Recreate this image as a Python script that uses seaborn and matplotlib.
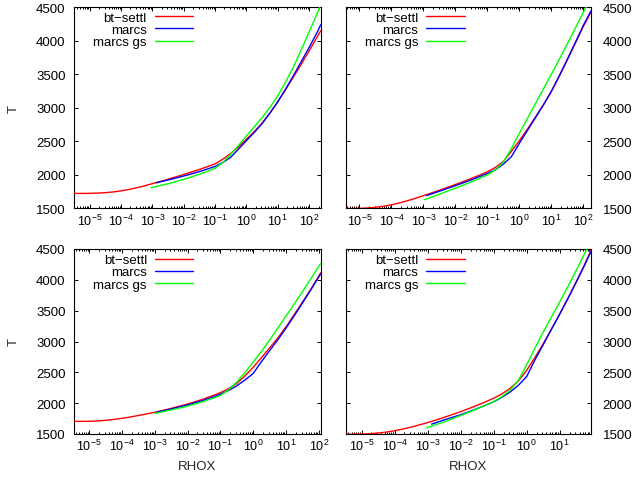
import numpy as np
import pandas as pd
import matplotlib
matplotlib.use("Agg")
import matplotlib.pyplot as plt
import seaborn as sns
from matplotlib.lines import Line2D
from matplotlib.ticker import LogLocator, NullFormatter, MultipleLocator

# ---------------------------------------------------------------- data
models = ["bt-settl", "marcs", "marcs gs"]
legend_labels = ["bt\u2212settl", "marcs", "marcs gs"]
palette = {"bt-settl": "#ff0000", "marcs": "#0000ff", "marcs gs": "#00ff00"}

# top left model: log10(RHOX) and temperature for each atmosphere grid
tl_settl_lgx = [-5.5, -5.25, -5.0, -4.75, -4.5, -4.25, -4.0, -3.75, -3.5, -3.25, -3.0, -2.75, -2.5, -2.25,
                -2.0, -1.75, -1.5, -1.25, -1.0, -0.75, -0.5, -0.25, 0.0, 0.25, 0.5, 0.75, 1.0, 1.25,
                1.5, 1.75, 2.0, 2.25, 2.37]
tl_settl_T = [1722, 1722, 1723, 1727, 1733, 1744, 1760, 1781, 1806, 1835, 1868, 1900, 1934, 1969,
              2005, 2042, 2080, 2120, 2163, 2233, 2318, 2418, 2530, 2645, 2770, 2920, 3090, 3270,
              3460, 3650, 3850, 4050, 4150]
tl_marcs_lgx = [-2.88, -2.75, -2.5, -2.25, -2.0, -1.75, -1.5, -1.25, -1.0, -0.75, -0.5, -0.25, 0.0,
                0.25, 0.5, 0.75, 1.0, 1.25, 1.5, 1.75, 2.0, 2.25, 2.37]
tl_marcs_T = [1880, 1895, 1922, 1952, 1982, 2014, 2048, 2085, 2125, 2185, 2262, 2385, 2510,
              2632, 2765, 2920, 3090, 3280, 3480, 3690, 3900, 4120, 4240]
tl_gs_lgx = [-3.04, -2.75, -2.5, -2.25, -2.0, -1.75, -1.5, -1.25, -1.0, -0.75, -0.5, -0.25, 0.0,
             0.25, 0.5, 0.75, 1.0, 1.25, 1.5, 1.75, 2.0, 2.25, 2.37]
tl_gs_T = [1808, 1840, 1866, 1898, 1932, 1969, 2008, 2050, 2097, 2185, 2305, 2440, 2580,
           2715, 2855, 3005, 3180, 3385, 3610, 3865, 4130, 4400, 4540]

# top right model
tr_settl_lgx = [-5.42, -5.25, -5.0, -4.75, -4.5, -4.25, -4.0, -3.75, -3.5, -3.25, -3.0, -2.75, -2.5,
                -2.25, -2.0, -1.75, -1.5, -1.25, -1.0, -0.75, -0.5, -0.25, 0.0, 0.25, 0.5, 0.75,
                1.0, 1.25, 1.5, 1.75, 2.0, 2.23]
tr_settl_T = [1497, 1497, 1499, 1505, 1515, 1531, 1552, 1580, 1613, 1649, 1688, 1728, 1770,
              1812, 1855, 1900, 1946, 1994, 2045, 2110, 2200, 2350, 2510, 2680, 2860, 3045,
              3245, 3475, 3715, 3965, 4215, 4420]
tr_marcs_lgx = [-2.9, -2.75, -2.5, -2.25, -2.0, -1.75, -1.5, -1.25, -1.0, -0.75, -0.5, -0.25, 0.0,
                0.25, 0.5, 0.75, 1.0, 1.25, 1.5, 1.75, 2.0, 2.23]
tr_marcs_T = [1690, 1715, 1755, 1796, 1838, 1881, 1925, 1972, 2020, 2075, 2160, 2270, 2470,
              2660, 2850, 3040, 3245, 3480, 3725, 3975, 4230, 4440]
tr_gs_lgx = [-2.97, -2.75, -2.5, -2.25, -2.0, -1.75, -1.5, -1.25, -1.0, -0.75, -0.5, -0.25, 0.0,
             0.25, 0.5, 0.75, 1.0, 1.25, 1.5, 1.75, 2.0, 2.23]
tr_gs_T = [1628, 1665, 1710, 1755, 1800, 1847, 1895, 1945, 1998, 2075, 2190, 2390, 2620,
           2840, 3060, 3280, 3500, 3725, 3955, 4190, 4425, 4640]

# bottom left model
bl_settl_lgx = [-5.46, -5.25, -5.0, -4.75, -4.5, -4.25, -4.0, -3.75, -3.5, -3.25, -3.0, -2.75, -2.5,
                -2.25, -2.0, -1.75, -1.5, -1.25, -1.0, -0.75, -0.5, -0.25, 0.0, 0.25, 0.5, 0.75,
                1.0, 1.25, 1.5, 1.75, 2.0, 2.06]
bl_settl_T = [1705, 1705, 1706, 1712, 1722, 1736, 1754, 1775, 1800, 1825, 1851, 1882, 1915,
              1950, 1986, 2026, 2070, 2118, 2170, 2235, 2320, 2440, 2580, 2735, 2895, 3055,
              3235, 3435, 3635, 3840, 4060, 4115]
bl_marcs_lgx = [-2.94, -2.75, -2.5, -2.25, -2.0, -1.75, -1.5, -1.25, -1.0, -0.75, -0.5, -0.25, 0.0,
                0.25, 0.5, 0.75, 1.0, 1.25, 1.5, 1.75, 2.0, 2.06]
bl_marcs_T = [1855, 1876, 1905, 1937, 1972, 2010, 2050, 2095, 2145, 2205, 2280, 2375, 2480,
              2670, 2850, 3025, 3215, 3415, 3620, 3830, 4045, 4100]
bl_gs_lgx = [-2.99, -2.75, -2.5, -2.25, -2.0, -1.75, -1.5, -1.25, -1.0, -0.75, -0.5, -0.25, 0.0,
             0.25, 0.5, 0.75, 1.0, 1.25, 1.5, 1.75, 2.0, 2.06]
bl_gs_T = [1835, 1860, 1890, 1920, 1952, 1990, 2030, 2075, 2125, 2215, 2340, 2495, 2665,
           2835, 3020, 3215, 3410, 3605, 3805, 4010, 4215, 4265]

# bottom right model
br_settl_lgx = [-5.47, -5.25, -5.0, -4.75, -4.5, -4.25, -4.0, -3.75, -3.5, -3.25, -3.0, -2.75, -2.5,
                -2.25, -2.0, -1.75, -1.5, -1.25, -1.0, -0.75, -0.5, -0.25, 0.0, 0.25, 0.5, 0.75,
                1.0, 1.25, 1.5, 1.75, 1.95]
br_settl_T = [1497, 1497, 1499, 1505, 1515, 1531, 1553, 1580, 1612, 1647, 1685, 1726, 1770,
              1815, 1862, 1912, 1965, 2020, 2080, 2150, 2240, 2360, 2530, 2740, 2960, 3200,
              3445, 3700, 3965, 4240, 4480]
br_marcs_lgx = [-2.88, -2.75, -2.5, -2.25, -2.0, -1.75, -1.5, -1.25, -1.0, -0.75, -0.5, -0.25, 0.0,
                0.25, 0.5, 0.75, 1.0, 1.25, 1.5, 1.75, 1.95]
br_marcs_T = [1660, 1682, 1728, 1770, 1812, 1860, 1912, 1965, 2022, 2095, 2180, 2290, 2430,
              2700, 2945, 3195, 3440, 3695, 3960, 4230, 4460]
br_gs_lgx = [-3.03, -2.75, -2.5, -2.25, -2.0, -1.75, -1.5, -1.25, -1.0, -0.75, -0.5, -0.25, 0.0,
             0.25, 0.5, 0.75, 1.0, 1.25, 1.5, 1.75, 1.95]
br_gs_T = [1600, 1650, 1695, 1748, 1800, 1853, 1908, 1965, 2025, 2105, 2210, 2370, 2620,
           2890, 3150, 3395, 3640, 3890, 4150, 4420, 4640]

yticks_step = 500
t_range = (1500, 4500)

# ---------------------------------------------------------------- style
sns.set_theme(style="ticks")
plt.rcParams["font.family"] = ["Liberation Sans", "DejaVu Sans"]
plt.rcParams["font.size"] = 9.5
plt.rcParams["axes.linewidth"] = 0.8
plt.rcParams["axes.edgecolor"] = "black"
plt.rcParams["text.color"] = "black"
plt.rcParams["xtick.color"] = "black"
plt.rcParams["ytick.color"] = "black"

W, H = 637, 481
fig = plt.figure(figsize=(W / 100, H / 100), dpi=100)


def frac_box(x0, x1, ytop, ybot):
    return [x0 / W, (H - ybot) / H, (x1 - x0) / W, (ybot - ytop) / H]


panels = [
    dict(box=frac_box(74, 320.7, 8.3, 209.3), side="left", xlabel=False,
         leg=(0.482, 0.979),
         series=[(tl_settl_lgx, tl_settl_T), (tl_marcs_lgx, tl_marcs_T), (tl_gs_lgx, tl_gs_T)]),
    dict(box=frac_box(346, 590.7, 8.3, 209.3), side="right", xlabel=False,
         leg=(0.485, 0.979),
         series=[(tr_settl_lgx, tr_settl_T), (tr_marcs_lgx, tr_marcs_T), (tr_gs_lgx, tr_gs_T)]),
    dict(box=frac_box(74, 320.7, 250, 435), side="left", xlabel=True,
         leg=(0.483, 0.973),
         series=[(bl_settl_lgx, bl_settl_T), (bl_marcs_lgx, bl_marcs_T), (bl_gs_lgx, bl_gs_T)]),
    dict(box=frac_box(346, 591, 250, 435), side="right", xlabel=True,
         leg=(0.4845, 0.973),
         series=[(br_settl_lgx, br_settl_T), (br_marcs_lgx, br_marcs_T), (br_gs_lgx, br_gs_T)]),
]

for p in panels:
    ax = fig.add_axes(p["box"])
    frames = []
    for model, (lgx, temp) in zip(models, p["series"]):
        frames.append(pd.DataFrame({"RHOX": 10.0 ** np.asarray(lgx, float),
                                    "T": np.asarray(temp, float),
                                    "model": model}))
    df = pd.concat(frames, ignore_index=True)

    ax.set_xscale("log")
    sns.lineplot(data=df, x="RHOX", y="T", hue="model", hue_order=models,
                 palette=palette, sort=False, estimator=None, lw=1.0,
                 legend=False, ax=ax, zorder=3)

    ax.set_xlim(df["RHOX"].min(), df["RHOX"].max())
    ax.set_ylim(*t_range)
    ax.yaxis.set_major_locator(MultipleLocator(yticks_step))
    ax.xaxis.set_major_locator(LogLocator(base=10, numticks=40))
    ax.xaxis.set_minor_locator(LogLocator(base=10, subs=np.arange(2, 10), numticks=40))
    ax.xaxis.set_minor_formatter(NullFormatter())

    ax.tick_params(which="both", direction="in", top=True, bottom=True,
                   left=True, right=True, width=0.7)
    ax.tick_params(which="major", length=3.2)
    ax.tick_params(which="minor", length=1.7)
    ax.tick_params(axis="x", pad=3, labelsize=9.0)
    if p["side"] == "left":
        ax.tick_params(axis="y", labelleft=True, labelright=False, pad=6, labelsize=9.5)
        ax.set_ylabel("T", fontsize=9.5)
        ax.yaxis.label.set_verticalalignment("center")
        ax.yaxis.set_label_coords(-0.245, 0.5)
    else:
        ax.tick_params(axis="y", labelleft=False, labelright=True, pad=8.5, labelsize=9.5)
        ax.set_ylabel("")

    if p["xlabel"]:
        ax.set_xlabel("RHOX", fontsize=9.5)
        ax.xaxis.label.set_verticalalignment("center")
        ax.xaxis.set_label_coords(0.5, -0.171)
    else:
        ax.set_xlabel("")

    handles = [Line2D([], [], color=palette[m], lw=1.0) for m in models]
    ax.legend(handles, legend_labels, loc="upper right", bbox_to_anchor=p["leg"],
              frameon=False, markerfirst=False, handlelength=2.9,
              handletextpad=0.6, labelspacing=0.0, borderpad=0.0,
              borderaxespad=0.0, fontsize=9.5)

fig.savefig("out.png", dpi=100)
